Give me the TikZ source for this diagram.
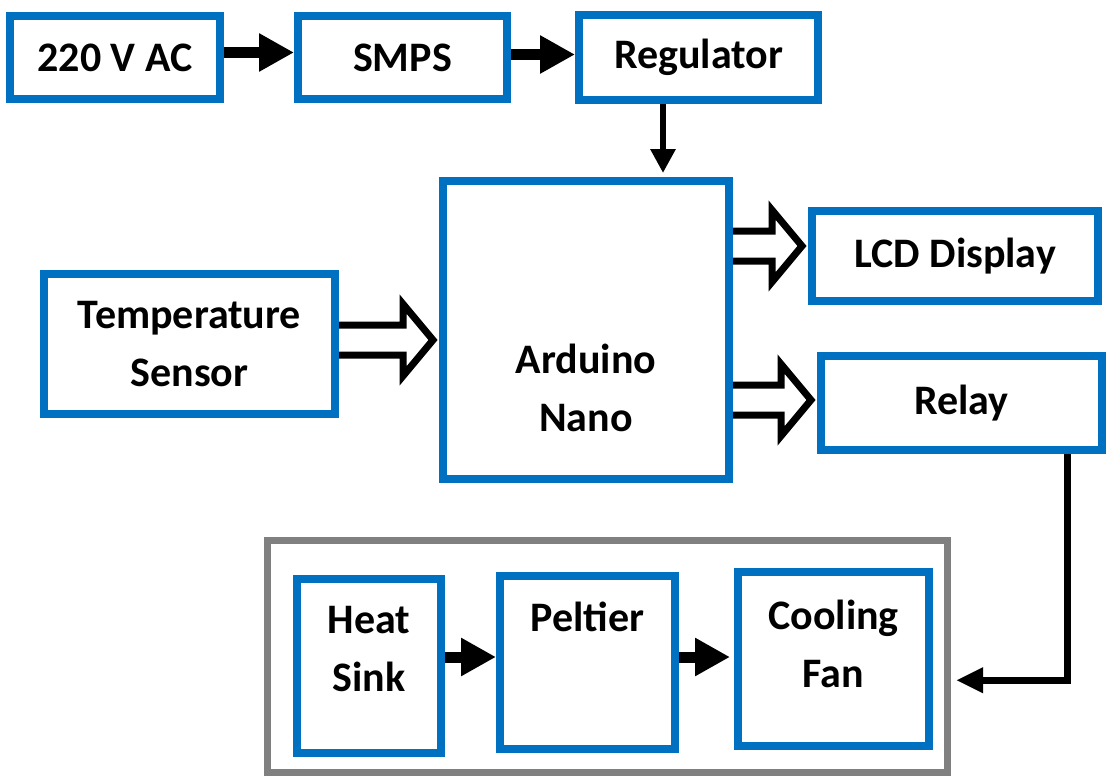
\documentclass[tikz,border=0pt]{standalone}
\usepackage{fontspec}
\setmainfont{Carlito}
\usetikzlibrary{calc, arrows.meta}
\definecolor{boxblue}{HTML}{0070C0}
\definecolor{groupgray}{HTML}{808080}

\tikzset{
  blk/.style={draw=boxblue, line width=8pt, fill=white, inner sep=0pt, align=center,
    font=\fontsize{42}{58}\selectfont\bfseries},
  txt/.style={inner sep=0pt, align=center, font=\fontsize{42}{58}\selectfont\bfseries},
  grpbox/.style={draw=groupgray, line width=7pt, fill=white},
  solidarrow/.style={line width=11pt, -{Triangle[length=35pt, width=36pt]}},
  thinarrow/.style={line width=6pt, -{Triangle[length=24pt, width=24pt]}},
  relayline/.style={line width=7pt, -{Triangle[length=27pt, width=24pt]}},
  fatline/.style={draw=black, line width=7pt, fill=white}
}

% hollow arrow: from node, to node, row
\newcommand{\fatarrow}[3]{%
  \path (#1 |- 0,#3) coordinate (fa-s) (#2 |- 0,#3) coordinate (fa-t);
  \filldraw[fatline] ($(fa-s)+(0,15)$) -- ($(fa-t)+(-36,15)$) -- ($(fa-t)+(-36,36)$)
    -- ($(fa-t)+(-6,0)$) -- ($(fa-t)+(-36,-36)$) -- ($(fa-t)+(-36,-15)$)
    -- ($(fa-s)+(0,-15)$);}

\begin{document}
\begin{tikzpicture}[x=1pt, y=-1pt]
  \useasboundingbox (0,0) rectangle (1106,776);

  \node[grpbox, minimum width=680, minimum height=231.5] (cool) at (607.5,656.25) {};

  \node[blk, minimum width=210, minimum height=83] (ac) at (115,57.5) {220 V AC};
  \node[blk, minimum width=209, minimum height=83] (smps) at (402.5,57.5) {SMPS};
  \node[blk, minimum width=239, minimum height=84] (reg) at (698.5,57.5) {Regulator};
  \node[blk, minimum width=291, minimum height=140] (temp) at (189.5,344) {Temperature\\Sensor};
  \node[blk, minimum width=286, minimum height=298,
        label={[txt, yshift=-58]center:Arduino\\Nano}] (arduino) at (586,330) {};
  \node[blk, minimum width=286, minimum height=90] (lcd) at (955,256) {LCD Display};
  \node[blk, minimum width=281, minimum height=94] (relay) at (961.5,403) {Relay};

  \node[blk, minimum width=144, minimum height=174,
        label={[txt, yshift=17]center:Heat\\Sink}] (heat) at (369,666) {};
  \node[blk, minimum width=175, minimum height=173,
        label={[txt, yshift=46]center:Peltier}] (peltier) at (587.5,662.5) {};
  \node[blk, minimum width=191, minimum height=174,
        label={[txt, yshift=15]center:Cooling\\Fan}] (fan) at (833.5,659) {};

  \draw[solidarrow] ([yshift=5]ac.east) -- ([yshift=5]smps.west);
  \draw[solidarrow] ([yshift=3]smps.east) -- ([yshift=3]reg.west);
  \draw[thinarrow, shorten >=4pt] (reg.south -| 663,0) -- (arduino.north -| 663,0);

  \fatarrow{temp.east}{arduino.west}{340}
  \fatarrow{arduino.east}{lcd.west}{246}
  \fatarrow{arduino.east}{relay.west}{400}

  \draw[relayline] (relay.south -| 1067,0) |- ([xshift=5pt, yshift=-24pt]cool.east);

  \draw[solidarrow] (heat.east |- 0,657) -- (peltier.west |- 0,657);
  \draw[solidarrow, shorten >=4pt] (peltier.east |- 0,657) -- (fan.west |- 0,657);
\end{tikzpicture}
\end{document}
